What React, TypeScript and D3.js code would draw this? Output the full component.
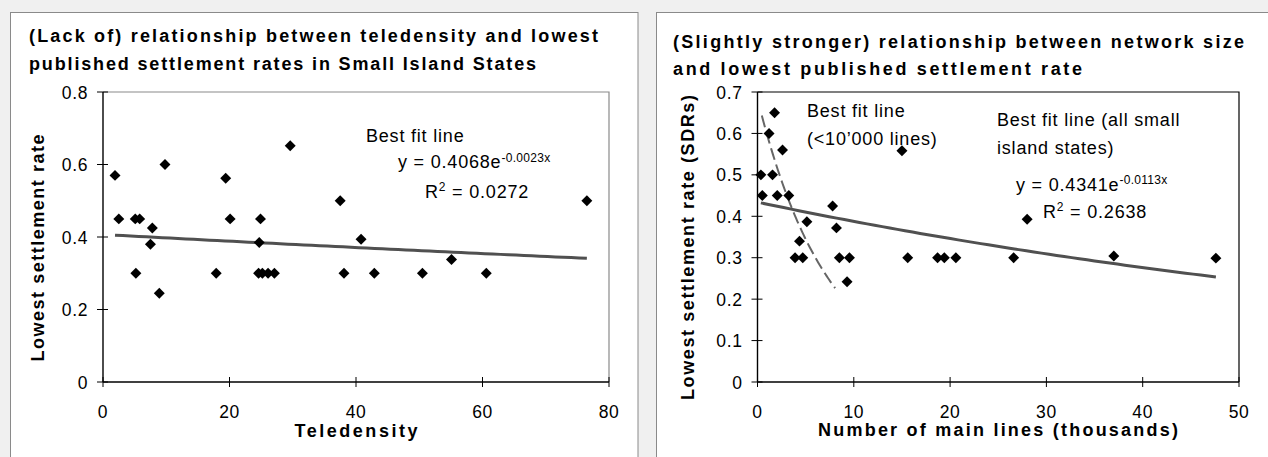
import * as d3 from "d3";

// ---------- data ----------

// left chart: teledensity vs lowest settlement rate
const TELEDENSITY = [
  1.9, 2.5, 5.1, 5.8, 5.2, 7.8, 7.5, 9.8, 8.9, 17.9, 19.4, 20.1, 24.9, 24.7,
  24.6, 25.2, 26.1, 27.1, 29.6, 37.5, 38.1, 40.8, 42.9, 50.5, 55.1, 60.6, 76.5,
];
const RATE_TELE = [
  0.57, 0.45, 0.45, 0.45, 0.3, 0.425, 0.38, 0.6, 0.245, 0.3, 0.562, 0.45, 0.45,
  0.385, 0.3, 0.3, 0.3, 0.3, 0.652, 0.5, 0.3, 0.394, 0.3, 0.3, 0.338, 0.3, 0.5,
];

// right chart: main lines (thousands) vs lowest settlement rate (SDRs)
const MAIN_LINES = [
  0.35, 1.56, 0.5, 2.05, 3.25, 1.77, 1.2, 2.6, 5.13, 4.36, 3.9, 4.7, 7.8, 8.2,
  8.5, 9.55, 9.3, 15.0, 15.6, 18.7, 19.4, 20.6, 26.6, 28.0, 37.0, 47.6,
];
const RATE_LINES = [
  0.5, 0.5, 0.45, 0.45, 0.45, 0.65, 0.6, 0.56, 0.387, 0.34, 0.3, 0.3, 0.425,
  0.372, 0.3, 0.3, 0.242, 0.558, 0.3, 0.3, 0.3, 0.3, 0.3, 0.393, 0.304, 0.299,
];

const TELE_TICKS = [0, 20, 40, 60, 80];
const RATE_TICKS_L = [0, 0.2, 0.4, 0.6, 0.8];
const LINES_TICKS = [0, 10, 20, 30, 40, 50];
const RATE_TICKS_R = [0, 0.1, 0.2, 0.3, 0.4, 0.5, 0.6, 0.7];

// exponential trend lines y = a * e^(b x)
const FIT_TELE = { a: 0.4068, b: -0.0023, from: 1.9, to: 76.5 };
const FIT_ALL = { a: 0.4341, b: -0.0113, from: 0.35, to: 47.6 };
const FIT_SMALL = { a: 0.684, b: -0.137, from: 0.45, to: 8.06 }; // no equation shown

const FONT = "Arial, 'Liberation Sans', sans-serif";
const W = 1268;
const H = 457;

const diamond = d3.symbol(d3.symbolSquare, 60)() ?? "";

type Fit = { a: number; b: number; from: number; to: number };

function fitPath(
  fit: Fit,
  x: d3.ScaleLinear<number, number>,
  y: d3.ScaleLinear<number, number>
) {
  const xs = d3.range(fit.from, fit.to, (fit.to - fit.from) / 60).concat(fit.to);
  return (
    d3
      .line<number>()
      .x((v) => x(v))
      .y((v) => y(fit.a * Math.exp(fit.b * v)))(xs) ?? ""
  );
}

type AxisProps = {
  x: d3.ScaleLinear<number, number>;
  y: d3.ScaleLinear<number, number>;
  xTicks: number[];
  yTicks: number[];
  frame: string;
};

function Axes({ x, y, xTicks, yTicks, frame }: AxisProps) {
  const [x0, x1] = x.range();
  const [y0, y1] = y.range();
  return (
    <g fontFamily={FONT} fontSize={17.5} fill="#000">
      {/* plot frame (top + right) */}
      <path
        d={`M${x0},${y1}H${x1}V${y0}`}
        fill="none"
        stroke={frame}
        strokeWidth={1.2}
      />
      <line x1={x0} x2={x0} y1={y1} y2={y0} stroke="#000" strokeWidth={1.4} />
      <line x1={x0} x2={x1} y1={y0} y2={y0} stroke="#000" strokeWidth={1.4} />
      {yTicks.map((t) => (
        <g key={`y${t}`}>
          <line x1={x0 - 6} x2={x0 + 5} y1={y(t)} y2={y(t)} stroke="#000" />
          <text x={x0 - 15} y={y(t) + 6.5} textAnchor="end" letterSpacing={0.6}>
            {String(t)}
          </text>
        </g>
      ))}
      {xTicks.map((t) => (
        <g key={`x${t}`}>
          <line x1={x(t)} x2={x(t)} y1={y0 - 5} y2={y0 + 5} stroke="#000" />
          <text x={x(t)} y={418} textAnchor="middle" letterSpacing={0.6}>
            {String(t)}
          </text>
        </g>
      ))}
    </g>
  );
}

function Points({
  xs,
  ys,
  x,
  y,
}: {
  xs: number[];
  ys: number[];
  x: d3.ScaleLinear<number, number>;
  y: d3.ScaleLinear<number, number>;
}) {
  return (
    <g>
      {xs.map((v, i) => (
        <path
          key={i}
          d={diamond}
          transform={`translate(${x(v)},${y(ys[i])}) rotate(45)`}
          fill="#000"
        />
      ))}
    </g>
  );
}

function LeftChart() {
  const x = d3.scaleLinear().domain([0, 80]).range([103, 609]);
  const y = d3.scaleLinear().domain([0, 0.8]).range([382, 92]);
  return (
    <g>
      <rect x={10.5} y={12.5} width={627.5} height={H} fill="#fff" stroke="#8a8a8a" />
      <g fontFamily={FONT} fontWeight="bold" fontSize={18}>
        <text x={29} y={42} textLength={569} lengthAdjust="spacing">
          (Lack of) relationship between teledensity and lowest
        </text>
        <text x={29} y={70} textLength={507} lengthAdjust="spacing">
          published settlement rates in Small Island States
        </text>
        <text
          x={356}
          y={437}
          textAnchor="middle"
          textLength={123}
          lengthAdjust="spacing"
        >
          Teledensity
        </text>
        <text
          transform="translate(44,248) rotate(-90)"
          textAnchor="middle"
          textLength={227}
          lengthAdjust="spacing"
        >
          Lowest settlement rate
        </text>
      </g>
      <Axes x={x} y={y} xTicks={TELE_TICKS} yTicks={RATE_TICKS_L} frame="#8a8a8a" />
      <path
        d={fitPath(FIT_TELE, x, y)}
        fill="none"
        stroke="#505050"
        strokeWidth={3}
      />
      <Points xs={TELEDENSITY} ys={RATE_TELE} x={x} y={y} />
      <g fontFamily={FONT} fontSize={18} letterSpacing={0.8}>
        <text x={366} y={141.5}>Best fit line</text>
        <text x={398} y={168}>
          y = 0.4068e
          <tspan dy={-6.5} fontSize={12} letterSpacing={0.3}>
            -0.0023x
          </tspan>
        </text>
        <text x={425} y={197.5}>
          R
          <tspan dy={-7} fontSize={12}>
            2
          </tspan>
          <tspan dy={7}> = 0.0272</tspan>
        </text>
      </g>
    </g>
  );
}

function RightChart() {
  const x = d3.scaleLinear().domain([0, 50]).range([757.5, 1239]);
  const y = d3.scaleLinear().domain([0, 0.7]).range([382, 92]);
  return (
    <g>
      <rect x={656.5} y={12.5} width={700} height={H} fill="#fff" stroke="#8a8a8a" />
      <g fontFamily={FONT} fontWeight="bold" fontSize={18}>
        <text x={673} y={48} textLength={571} lengthAdjust="spacing">
          (Slightly stronger) relationship between network size
        </text>
        <text x={673} y={75} textLength={409} lengthAdjust="spacing">
          and lowest published settlement rate
        </text>
        <text
          x={998}
          y={436}
          textAnchor="middle"
          textLength={360}
          lengthAdjust="spacing"
        >
          Number of main lines (thousands)
        </text>
        <text
          transform="translate(694,247.5) rotate(-90)"
          textAnchor="middle"
          textLength={305}
          lengthAdjust="spacing"
        >
          Lowest settlement rate (SDRs)
        </text>
      </g>
      <Axes x={x} y={y} xTicks={LINES_TICKS} yTicks={RATE_TICKS_R} frame="#000" />
      <path
        d={fitPath(FIT_SMALL, x, y)}
        fill="none"
        stroke="#666"
        strokeWidth={2}
        strokeDasharray="12 5"
      />
      <path
        d={fitPath(FIT_ALL, x, y)}
        fill="none"
        stroke="#505050"
        strokeWidth={3}
      />
      <Points xs={MAIN_LINES} ys={RATE_LINES} x={x} y={y} />
      <g fontFamily={FONT} fontSize={18} letterSpacing={0.8}>
        <text x={807} y={117}>Best fit line</text>
        <text x={807} y={145}>(&lt;10’000 lines)</text>
        <text x={997} y={125.5}>Best fit line (all small</text>
        <text x={997} y={153.5}>island states)</text>
        <text x={1016} y={190.5}>
          y = 0.4341e
          <tspan dy={-6.5} fontSize={12} letterSpacing={0.3}>
            -0.0113x
          </tspan>
        </text>
        <text x={1043} y={218}>
          R
          <tspan dy={-7} fontSize={12}>
            2
          </tspan>
          <tspan dy={7}> = 0.2638</tspan>
        </text>
      </g>
    </g>
  );
}

export default function App() {
  return (
    <svg
      width={W}
      height={H}
      viewBox={`0 0 ${W} ${H}`}
      style={{ position: "absolute", left: 0, top: 0, display: "block" }}
    >
      <rect width={W} height={H} fill="#f0f0f0" />
      <LeftChart />
      <RightChart />
    </svg>
  );
}
